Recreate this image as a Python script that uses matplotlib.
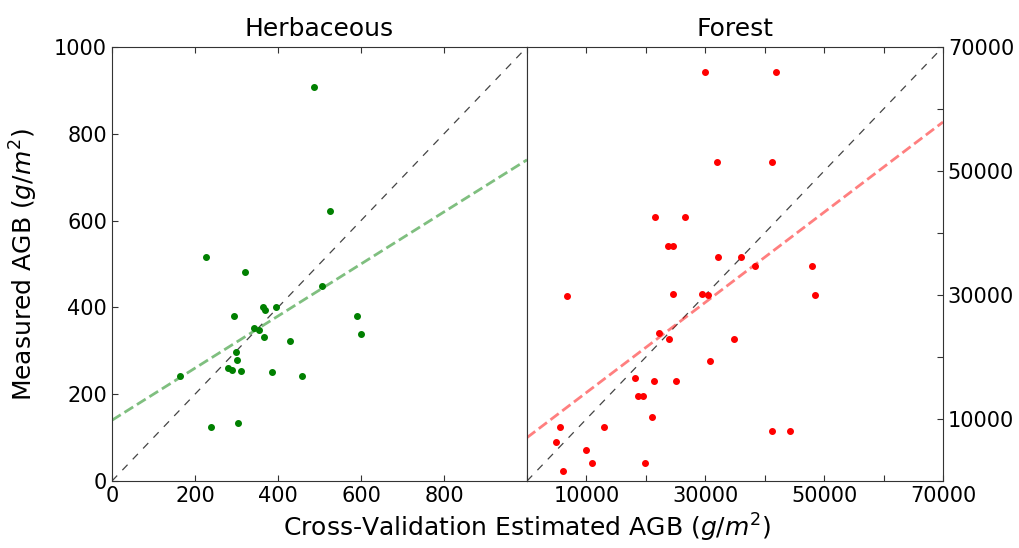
import matplotlib.pyplot as plt
import numpy as np

# Herbaceous: estimated vs measured AGB (g/m2)
herb_est = [486, 526, 226, 320, 506, 364, 369, 394, 295, 590, 342, 353, 367, 599,
            429, 298, 300, 280, 290, 311, 386, 163, 459, 238, 304]
herb_meas = [907, 621, 517, 481, 449, 401, 395, 401, 381, 379, 352, 349, 332, 338,
             322, 298, 279, 260, 255, 253, 250, 243, 243, 125, 133]
herb_fit = [140, 0.6]  # intercept, slope

# Forest
forest_est = [29890, 41970, 31910, 41290, 21570, 26630, 23710, 24610, 32190, 36010,
              38370, 47980, 6740, 24610, 29440, 30510, 48540, 22190, 23930, 34830,
              30840, 18090, 21350, 25110, 18650, 19440, 21010, 5510, 13030, 41290,
              44210, 4940, 9940, 10900, 19830, 6010]
forest_meas = [65990, 65990, 51400, 51400, 42520, 42520, 37940, 37940, 36170, 36170,
               34610, 34610, 29870, 30090, 30090, 29980, 29980, 23840, 22930, 22930,
               19430, 16630, 16200, 16200, 13720, 13720, 10280, 8770, 8770, 8020,
               8020, 6300, 5060, 2960, 2960, 1610]
forest_fit = [7000, 0.727]

plt.rcParams['axes.edgecolor'] = '#333333'
plt.rcParams['xtick.color'] = '#333333'
plt.rcParams['ytick.color'] = '#333333'
plt.rcParams['xtick.labelcolor'] = 'black'
plt.rcParams['ytick.labelcolor'] = 'black'

fig = plt.figure(figsize=(10.2, 5.48), dpi=100)
ax1 = fig.add_axes([0.1098, 0.1223, 0.4069, 0.792])
ax2 = fig.add_axes([0.5167, 0.1223, 0.4078, 0.792])

# Herbaceous
xl = np.array([0, 1000])
ax1.plot(xl, xl, '--', color='#444444', linewidth=0.9, dashes=(6, 6))
ax1.plot(xl, herb_fit[0] + herb_fit[1] * xl, '--', color='green', alpha=0.5,
         linewidth=2)
ax1.plot(herb_est, herb_meas, 'o', color='green', markersize=4)
ax1.set_xlim(0, 1000)
ax1.set_ylim(0, 1000)
ax1.set_xticks([0, 200, 400, 600, 800])
ax1.set_yticks([0, 200, 400, 600, 800, 1000])
ax1.tick_params(direction='in', top=True, right=False, labelsize=15, length=4)
ax1.set_title('Herbaceous', fontsize=18, pad=8)
ax1.set_ylabel('Measured AGB ($g/m^2$)', fontsize=18, labelpad=10)

# Forest
xf = np.array([0, 70000])
ax2.plot(xf, xf, '--', color='#444444', linewidth=0.9, dashes=(6, 6))
ax2.plot(xf, forest_fit[0] + forest_fit[1] * xf, '--', color='red', alpha=0.5,
         linewidth=2)
ax2.plot(forest_est, forest_meas, 'o', color='red', markersize=4)
ax2.set_xlim(0, 70000)
ax2.set_ylim(0, 70000)
ticks = np.arange(0, 70001, 10000)
lbls = [str(t) if (t // 10000) % 2 == 1 else '' for t in ticks]
ax2.set_xticks(ticks)
ax2.set_xticklabels(lbls)
ax2.set_yticks(ticks)
ax2.set_yticklabels(lbls)
ax2.yaxis.tick_right()
ax2.tick_params(direction='in', top=True, left=False, right=True, labelsize=15,
                length=4)
ax2.set_title('Forest', fontsize=18, pad=8)

fig.text(0.517, 0.02, 'Cross-Validation Estimated AGB ($g/m^2$)', ha='center',
         fontsize=18)

fig.savefig('out.png', dpi=100)
